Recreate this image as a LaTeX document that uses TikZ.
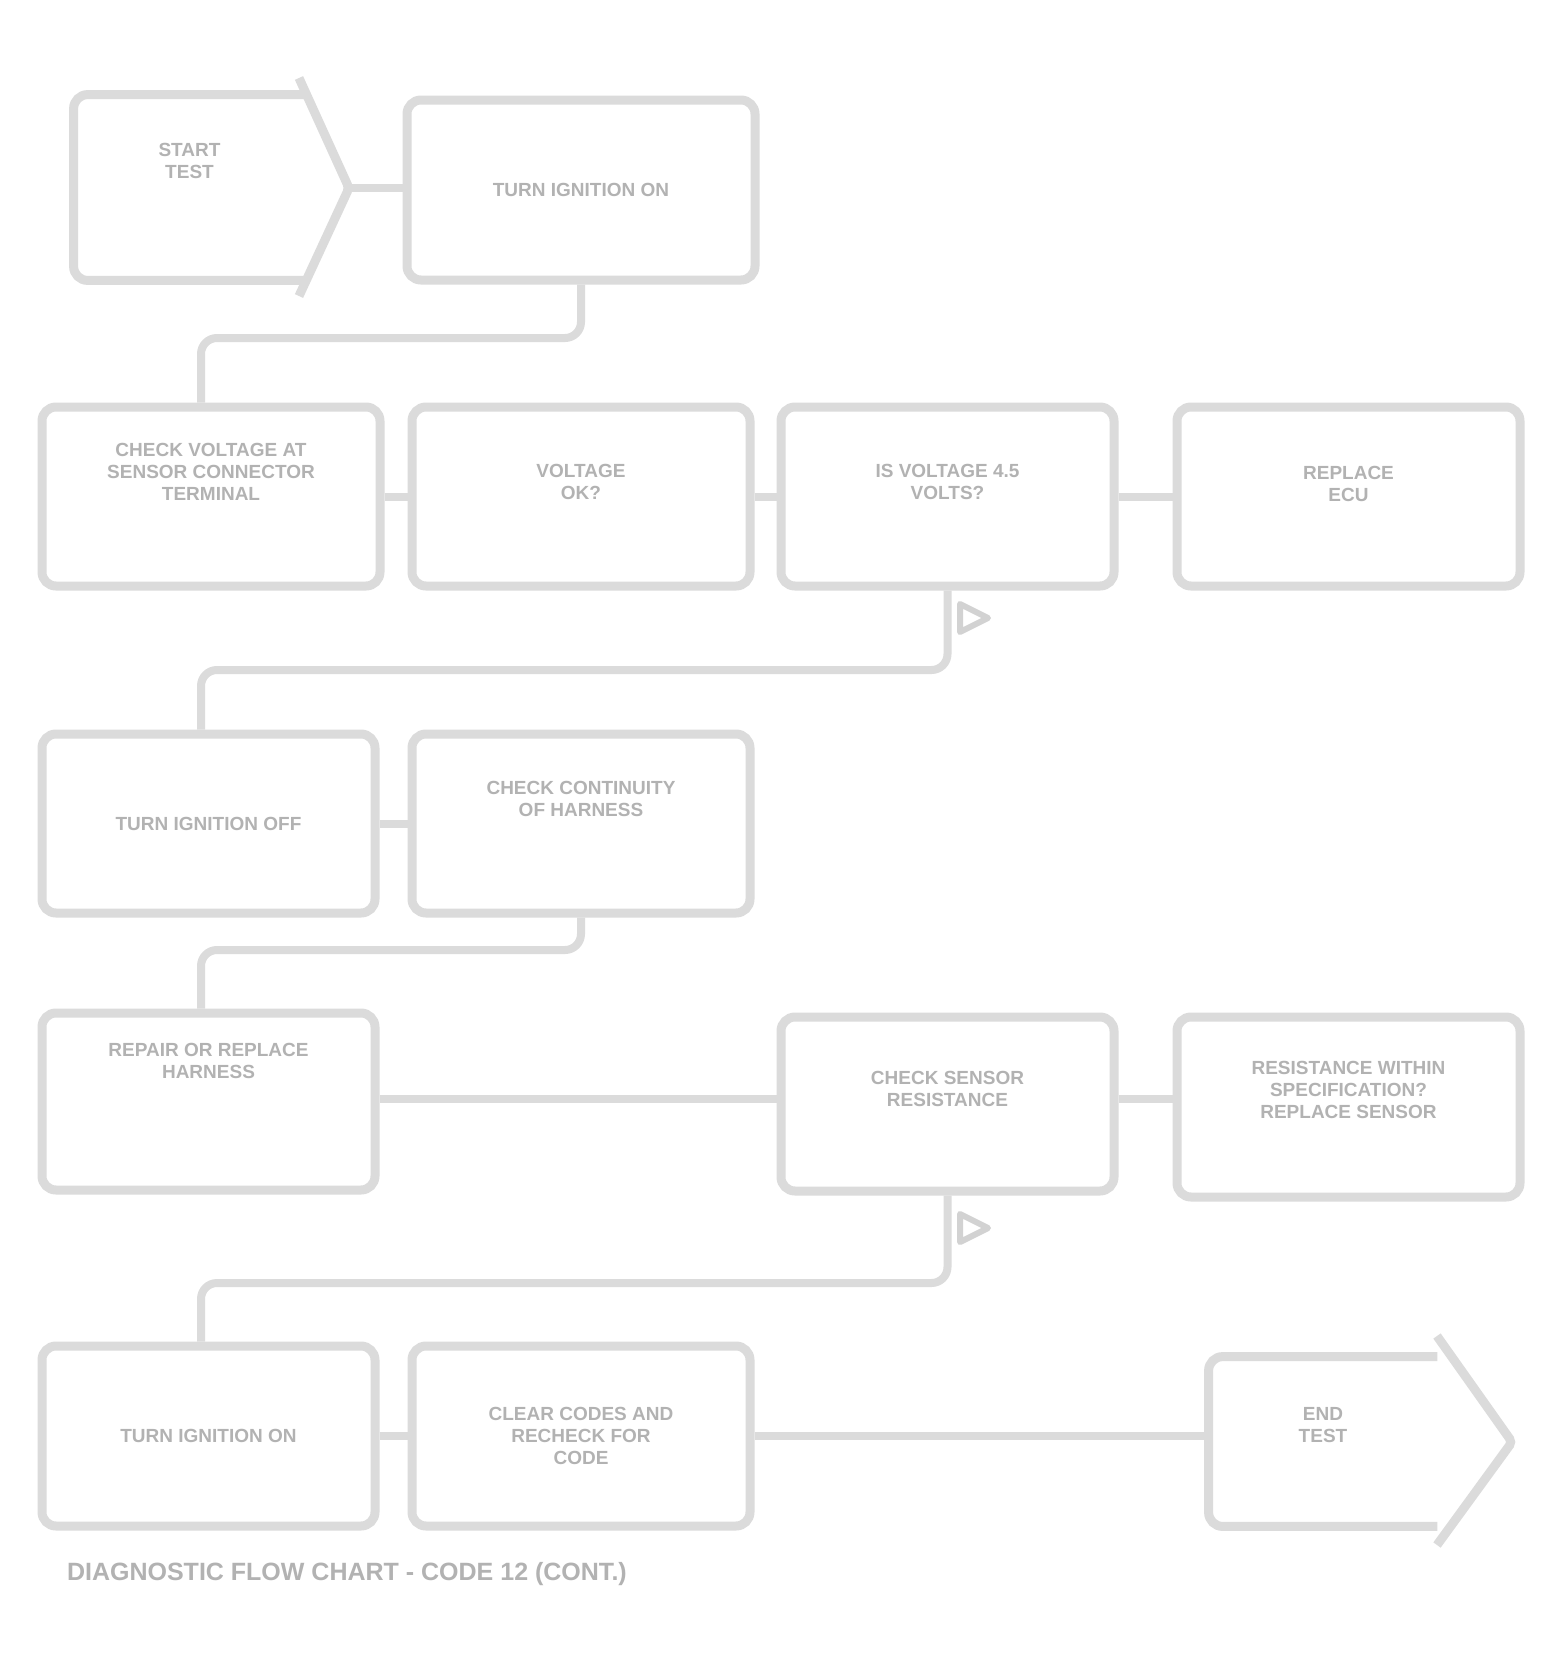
\documentclass[tikz,border=0pt]{standalone}
\usepackage{fontspec}
\setmainfont{Liberation Sans}
\begin{document}
\begin{tikzpicture}[x=0.5pt,y=-0.5pt,
  box/.style={draw=gray!28, line width=4.5pt, rounded corners=7pt, fill=white,
    align=center, font=\fontsize{9.5}{11}\selectfont\bfseries, text=gray!60,
    inner sep=4pt},
  ghost/.style={draw=none, align=center, font=\fontsize{9.5}{11}\selectfont\bfseries, text=gray!60},
  outl/.style={draw=gray!28, line width=4.5pt, rounded corners=7pt},
  conn/.style={draw=gray!28, line width=4pt, rounded corners=8pt},
  flag/.style={draw=gray!35, line width=3pt, line join=round}]
\useasboundingbox (0,0) rectangle (1563,1662);
\fill[white] (0,0) rectangle (1563,1662);

% ---- row 1
\node[ghost, minimum width=115.5pt, minimum height=92.5pt] (start) at (189.5,187.5) {START\\TEST\\[16pt]};
\draw[outl] (start.north east) -- (start.north west) -- (start.south west) -- (start.south east);
\coordinate (stop) at (299,78);
\coordinate (stip) at (349,188);
\coordinate (sbot) at (299,296);
\draw[outl, rounded corners=2pt] (stop) -- (stip) -- (sbot);
\node[box, minimum width=174pt, minimum height=90pt] (r1b) at (581,190) {TURN IGNITION ON};

% ---- row 2
\node[box, minimum width=169pt, minimum height=89.5pt] (r2a) at (211,496.5) {CHECK VOLTAGE AT\\SENSOR CONNECTOR\\TERMINAL\\[14pt]};
\node[box, minimum width=169pt, minimum height=89.5pt] (r2b) at (581,496.5) {VOLTAGE\\OK?\\[4pt]};
\node[box, minimum width=166.5pt, minimum height=89.5pt] (r2c) at (947.5,496.5) {IS VOLTAGE 4.5\\VOLTS?\\[4pt]};
\node[box, minimum width=171.5pt, minimum height=89.5pt] (r2d) at (1348.5,496.5) {REPLACE\\ECU\\[2pt]};

% ---- row 3
\node[box, minimum width=166.5pt, minimum height=89.5pt] (r3a) at (208.5,823.5) {TURN IGNITION OFF};
\node[box, minimum width=169pt, minimum height=89.5pt] (r3b) at (581,823.5) {CHECK CONTINUITY\\OF HARNESS\\[14pt]};

% ---- row 4
\node[box, minimum width=166.5pt, minimum height=88.5pt] (r4a) at (208.5,1101.5) {REPAIR OR REPLACE\\HARNESS\\[30pt]};
\node[box, minimum width=166.5pt, minimum height=87pt] (r4c) at (947.5,1104) {CHECK SENSOR\\RESISTANCE\\[4pt]};
\node[box, minimum width=171.5pt, minimum height=90pt] (r4d) at (1348.5,1107) {RESISTANCE WITHIN\\SPECIFICATION?\\REPLACE SENSOR\\[6pt]};

% ---- row 5
\node[box, minimum width=166.5pt, minimum height=90pt] (r5a) at (208.5,1436) {TURN IGNITION ON};
\node[box, minimum width=169pt, minimum height=90pt] (r5b) at (581,1436) {CLEAR CODES AND\\RECHECK FOR\\CODE};
\node[ghost, minimum width=114pt, minimum height=84.5pt] (fin) at (1323,1441.5) {END\\TEST\\[6pt]};
\draw[outl] (fin.north east) -- (fin.north west) -- (fin.south west) -- (fin.south east);
\coordinate (ftop) at (1437,1336);
\coordinate (ftip) at (1512,1442);
\coordinate (fbot) at (1437,1545);
\draw[outl, rounded corners=2pt] (ftop) -- (ftip) -- (fbot);

% ---- caption
\node[anchor=west, font=\fontsize{12.5}{14}\selectfont\bfseries, text=gray!60] (cap) at (60,1574) {DIAGNOSTIC FLOW CHART - CODE 12 (CONT.)};

% ---- connectors
\draw[conn] (stip) -- (stip -| r1b.west);
\coordinate (j1) at (201,338);
\draw[conn] (r1b.south) |- (j1) -- (r2a.north -| j1);
\draw[conn] (r2a.east) -- (r2b.west);
\draw[conn] (r2b.east) -- (r2c.west);
\draw[conn] (r2c.east) -- (r2d.west);
\coordinate (j2) at (201,670);
\draw[conn] (r2c.south) |- (j2) -- (r3a.north -| j2);
\draw[flag] (960,604) -- (988,618) -- (960,632) -- cycle;
\draw[conn] (r3a.east) -- (r3b.west);
\coordinate (j3) at (201,950);
\draw[conn] (r3b.south) |- (j3) -- (r4a.north -| j3);
\coordinate (h4) at (0,1099);
\draw[conn] (r4a.east |- h4) -- (r4c.west |- h4);
\draw[conn] (r4c.east |- h4) -- (r4d.west |- h4);
\coordinate (j4) at (201,1283);
\draw[conn] (r4c.south) |- (j4) -- (r5a.north -| j4);
\draw[flag] (960,1214) -- (988,1228) -- (960,1242) -- cycle;
\draw[conn] (r5a.east) -- (r5b.west);
\draw[conn] (r5b.east) -- (r5b.east -| fin.west);
\end{tikzpicture}
\end{document}
